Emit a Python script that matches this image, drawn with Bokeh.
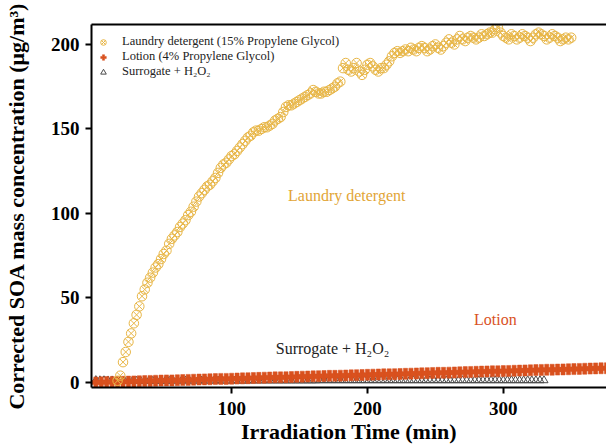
from bokeh.plotting import figure
from bokeh.models import Range1d, FixedTicker, LinearAxis, Label, Legend, LegendItem
from bokeh.embed import file_html
from bokeh.resources import INLINE

# ---- data ----
laundry_t = [16, 18, 20, 22, 24, 26, 28, 30, 32, 34, 36, 38, 40, 42, 44, 46, 48, 50,
             52, 54, 56, 58, 60, 62, 64, 66, 68, 70, 72, 74, 76, 78, 80, 82, 84, 86,
             88, 90, 92, 94, 96, 98, 100, 102, 104, 106, 108, 110, 112, 114, 116, 118,
             120, 122, 124, 126, 128, 130, 132, 134, 136, 138, 140, 142, 144, 146, 148,
             150, 152, 154, 156, 158, 160, 162, 164, 166, 168, 170, 172, 174, 176, 178,
             180, 182, 184, 186, 188, 190, 192, 194, 196, 198, 200, 202, 204, 206, 208,
             210, 212, 214, 216, 218, 220, 222, 224, 226, 228, 230, 232, 234, 236, 238,
             240, 242, 244, 246, 248, 250, 252, 254, 256, 258, 260, 262, 264, 266, 268,
             270, 272, 274, 276, 278, 280, 282, 284, 286, 288, 290, 292, 294, 296, 298,
             300, 302, 304, 306, 308, 310, 312, 314, 316, 318, 320, 322, 324, 326, 328,
             330, 332, 334, 336, 338, 340, 342, 344, 346, 348, 350]
laundry_soa = [1, 4, 12, 18, 24, 29, 35, 40, 45, 51, 55, 59, 62, 65, 68, 70, 73, 76,
               78, 82, 85, 87, 89, 92, 94, 96, 99, 101, 104, 107, 110, 112, 114, 116, 117, 119,
               121, 124, 127, 129, 130, 132, 134, 135, 137, 139, 141, 143, 145, 146, 148, 149,
               149, 150, 151, 151, 152, 153, 155, 156, 157, 160, 163, 164, 164, 165, 166,
               167, 168, 169, 170, 171, 173, 172, 171, 171, 172, 172, 173, 174, 175, 177,
               178, 186, 189, 185, 184, 186, 189, 184, 182, 185, 188, 189, 187, 185, 184,
               186, 186, 188, 190, 193, 195, 196, 195, 196, 197, 196, 198, 197, 196, 198,
               199, 198, 196, 197, 199, 200, 198, 197, 199, 201, 203, 201, 200, 203, 205,
               203, 202, 204, 205, 204, 203, 204, 206, 205, 206, 207, 207, 209, 210, 207,
               205, 204, 203, 206, 205, 203, 204, 206, 205, 204, 202, 204, 206, 207, 206,
               205, 203, 204, 206, 205, 204, 202, 203, 204, 203, 204]

lotion_t = [0, 4, 8, 12, 16, 20, 24, 28, 32, 36, 40, 44, 48, 52, 56, 60, 64, 68, 72, 76,
            80, 84, 88, 92, 96, 100, 104, 108, 112, 116, 120, 124, 128, 132, 136, 140, 144,
            148, 152, 156, 160, 164, 168, 172, 176, 180, 184, 188, 192, 196, 200, 204, 208,
            212, 216, 220, 224, 228, 232, 236, 240, 244, 248, 252, 256, 260, 264, 268, 272,
            276, 280, 284, 288, 292, 296, 300, 304, 308, 312, 316, 320, 324, 328, 332, 336,
            340, 344, 348, 352, 356, 360, 364, 368, 372, 376]
lotion_soa = [0.0, 0.1, 0.2, 0.3, 0.3, 0.4, 0.5, 0.6, 0.7, 0.8, 0.9, 1.0, 1.1, 1.2, 1.2,
              1.3, 1.4, 1.5, 1.6, 1.7, 1.8, 1.9, 2.0, 2.1, 2.1, 2.2, 2.3, 2.4, 2.5, 2.6,
              2.7, 2.8, 2.9, 3.0, 3.0, 3.1, 3.2, 3.3, 3.4, 3.5, 3.6, 3.7, 3.8, 3.9, 3.9,
              4.0, 4.1, 4.2, 4.3, 4.4, 4.5, 4.6, 4.7, 4.8, 4.8, 4.9, 5.0, 5.1, 5.2, 5.3,
              5.4, 5.5, 5.6, 5.7, 5.7, 5.8, 5.9, 6.0, 6.1, 6.2, 6.3, 6.4, 6.5, 6.6, 6.6,
              6.7, 6.8, 6.9, 7.0, 7.1, 7.2, 7.3, 7.4, 7.5, 7.5, 7.6, 7.7, 7.8, 7.9, 8.0,
              8.1, 8.2, 8.3, 8.4, 8.4]

surrogate_t = [0, 3, 6, 9, 12, 15, 18, 21, 24, 27, 30, 33, 36, 39, 42, 45, 48, 51, 54, 57,
               60, 63, 66, 69, 72, 75, 78, 81, 84, 87, 90, 93, 96, 99, 102, 105, 108, 111,
               114, 117, 120, 123, 126, 129, 132, 135, 138, 141, 144, 147, 150, 153, 156,
               159, 162, 165, 168, 171, 174, 177, 180, 183, 186, 189, 192, 195, 198, 201,
               204, 207, 210, 213, 216, 219, 222, 225, 228, 231, 234, 237, 240, 243, 246,
               249, 252, 255, 258, 261, 264, 267, 270, 273, 276, 279, 282, 285, 288, 291,
               294, 297, 300, 303, 306, 309, 312, 315, 318, 321, 324, 327, 330]
surrogate_soa = [1.3, 1.2, 1.2, 1.1, 1.1, 1.0, 1.0, 1.0, 0.9, 0.9, 0.9, 0.9, 0.9, 0.9, 0.9,
                 0.9, 0.9, 0.9, 0.9, 1.0, 1.0, 1.0, 1.0, 1.0, 1.0, 1.0, 1.0, 1.0, 1.0, 1.0,
                 1.0, 1.0, 1.0, 1.0, 1.0, 1.0, 1.0, 1.0, 1.1, 1.1, 1.1, 1.1, 1.1, 1.1, 1.1,
                 1.1, 1.1, 1.1, 1.1, 1.1, 1.1, 1.1, 1.1, 1.1, 1.1, 1.2, 1.2, 1.2, 1.2, 1.2,
                 1.2, 1.2, 1.2, 1.2, 1.2, 1.2, 1.2, 1.2, 1.2, 1.2, 1.2, 1.2, 1.2, 1.2, 1.2,
                 1.2, 1.2, 1.2, 1.2, 1.2, 1.2, 1.2, 1.2, 1.2, 1.2, 1.2, 1.2, 1.2, 1.2, 1.2,
                 1.2, 1.2, 1.2, 1.2, 1.2, 1.2, 1.2, 1.2, 1.2, 1.2, 1.2, 1.2, 1.2, 1.2, 1.2,
                 1.2, 1.2, 1.2, 1.2, 1.2, 1.2]

x_ticks = [100, 200, 300]
y_ticks = [0, 50, 100, 150, 200]

SERIF = "Liberation Serif"
GOLD = "#E8B646"
GOLD_TEXT = "#E2A536"
ORANGE = "#D9511E"
GRAY = "#4a4a4a"

p = figure(width=606, height=447, output_backend="svg", toolbar_location=None,
           x_range=Range1d(-3.2, 376), y_range=Range1d(-3, 211.8),
           min_border_left=91, min_border_right=0, min_border_top=24, min_border_bottom=60)
p.background_fill_color = "white"
p.border_fill_color = "white"
p.outline_line_color = None
p.xgrid.visible = False
p.ygrid.visible = False

r_tri = p.scatter(surrogate_t, surrogate_soa, marker="triangle", size=8,
                  fill_color=None, line_color=GRAY, line_width=1)
r_lot = p.scatter(lotion_t, lotion_soa, marker="plus", size=11,
                  fill_color=ORANGE, line_color=ORANGE, line_width=0.5)
r_lau = p.scatter(laundry_t, laundry_soa, marker="circle_x", size=9.5,
                  fill_color=None, line_color=GOLD, line_width=1)

for ax in (p.xaxis[0], p.yaxis[0]):
    ax.axis_line_width = 2
    ax.axis_line_color = "black"
    ax.major_tick_line_width = 2
    ax.major_tick_line_color = "black"
    ax.major_tick_in = 0
    ax.major_tick_out = 6
    ax.minor_tick_line_color = None
    ax.major_label_text_font = SERIF
    ax.major_label_text_font_style = "bold"
    ax.major_label_text_font_size = "19px"
    ax.major_label_text_color = "black"
    ax.axis_label_text_font = SERIF
    ax.axis_label_text_font_style = "bold"
    ax.axis_label_text_font_size = "22px"
    ax.axis_label_text_color = "black"

p.xaxis[0].ticker = FixedTicker(ticks=x_ticks)
p.yaxis[0].ticker = FixedTicker(ticks=y_ticks)
p.xaxis[0].axis_label = "Irradiation Time (min)"
p.yaxis[0].axis_label = "Corrected SOA mass concentration (μg/m³)"
p.xaxis[0].major_label_standoff = 8
p.xaxis[0].axis_label_standoff = 1
p.yaxis[0].major_label_standoff = 6
p.yaxis[0].axis_label_standoff = 19

top = LinearAxis(ticker=FixedTicker(ticks=[]), axis_line_width=2, axis_line_color="black",
                 major_tick_line_color=None, minor_tick_line_color=None,
                 major_label_text_font_size="0px")
p.add_layout(top, "above")

p.add_layout(Label(x=141.5, y=110.5, text="Laundry detergent", text_font=SERIF,
                   text_font_size="16px", text_color=GOLD_TEXT,
                   text_baseline="middle", text_align="left"))
p.add_layout(Label(x=278.5, y=37.5, text="Lotion", text_font=SERIF,
                   text_font_size="16px", text_color=ORANGE,
                   text_baseline="middle", text_align="left"))
p.add_layout(Label(x=132.5, y=20, text="Surrogate + H₂O₂", text_font=SERIF,
                   text_font_size="16px", text_color="#222222",
                   text_baseline="middle", text_align="left"))

legend = Legend(items=[
    LegendItem(label="Laundry detergent (15% Propylene Glycol)", renderers=[r_lau]),
    LegendItem(label="Lotion (4% Propylene Glycol)", renderers=[r_lot]),
    LegendItem(label="Surrogate + H₂O₂", renderers=[r_tri]),
], location=(4, 308))
legend.border_line_color = None
legend.background_fill_alpha = 0
legend.padding = 0
legend.margin = 0
legend.spacing = 0
legend.glyph_width = 16
legend.glyph_height = 14
legend.label_height = 14
legend.label_standoff = 11
legend.label_text_font = SERIF
legend.label_text_font_size = "12.5px"
legend.label_text_color = "#222222"
legend.label_text_baseline = "middle"
p.add_layout(legend)

open("out.html", "w").write(file_html(p, INLINE))
